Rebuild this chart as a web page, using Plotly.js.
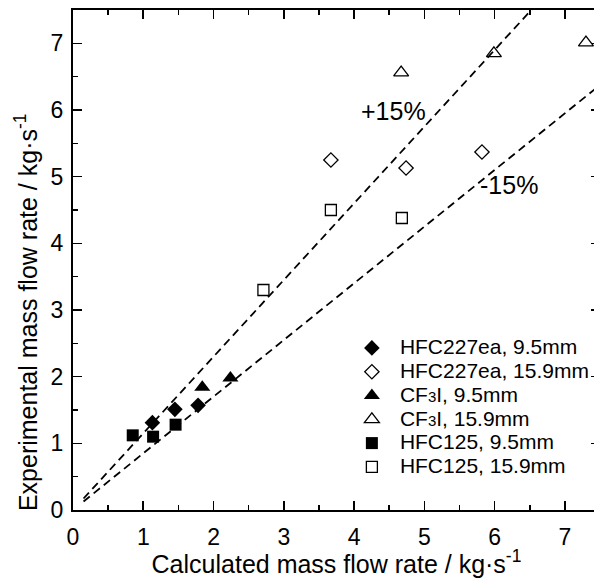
<!DOCTYPE html>
<html>
<head>
<meta charset="utf-8">
<script src="https://cdn.plot.ly/plotly-3.0.1.min.js"></script>
<style>
html, body { margin: 0; padding: 0; overflow: hidden; background: #fff; }
#chart { width: 610px; height: 578px; }
</style>
</head>
<body>
<div id="chart"></div>
<script>
// HFC227ea, 9.5mm
const hfc227_95_x = [1.13, 1.45, 1.78];
const hfc227_95_y = [1.31, 1.51, 1.57];
// HFC227ea, 15.9mm
const hfc227_159_x = [3.67, 4.74, 5.82];
const hfc227_159_y = [5.25, 5.13, 5.37];
// CF3I, 9.5mm
const cf3i_95_x = [1.84, 2.24];
const cf3i_95_y = [1.84, 1.98];
// CF3I, 15.9mm
const cf3i_159_x = [4.67, 5.99, 7.30];
const cf3i_159_y = [6.56, 6.85, 7.01];
// HFC125, 9.5mm
const hfc125_95_x = [0.85, 1.14, 1.46];
const hfc125_95_y = [1.12, 1.10, 1.28];
// HFC125, 15.9mm
const hfc125_159_x = [2.71, 3.67, 4.68];
const hfc125_159_y = [3.30, 4.50, 4.38];

// +/-15% reference lines
const refLineX = [0.15, 7.5];
const plusFactor = 1.15;
const minusFactor = 0.85;

// axis range and tick values (both axes)
const axisRange = [0, 7.5];
const majorTicks = [0, 1, 2, 3, 4, 5, 6, 7];

const xTitle = 'Calculated mass flow rate / kg·s<sup>-1</sup>';
const yTitle = 'Experimental mass flow rate / kg·s<sup>-1</sup>';

const FONT = 'Liberation Sans, Arial, sans-serif';

function big(s) { return '<span style="font-size:21px">' + s + '</span>'; }
function small(s) { return '<span style="font-size:15px">' + s + '</span>'; }

function pts(name, x, y, symbol, size, filled) {
  return {
    type: 'scatter', mode: 'markers', name: name, x: x, y: y,
    marker: {
      symbol: symbol, size: size, color: '#000',
      line: { color: '#000', width: filled ? 0 : 1.3 }
    }
  };
}

const traces = [
  { type: 'scatter', mode: 'lines', x: refLineX, y: refLineX.map(v => v * plusFactor),
    line: { color: '#000', width: 1.8, dash: '8px,5px' }, showlegend: false, hoverinfo: 'skip' },
  { type: 'scatter', mode: 'lines', x: refLineX, y: refLineX.map(v => v * minusFactor),
    line: { color: '#000', width: 1.8, dash: '8px,5px' }, showlegend: false, hoverinfo: 'skip' },
  pts(big('HFC227ea, 9.5mm'), hfc227_95_x, hfc227_95_y, 'diamond', 12, true),
  pts(big('HFC227ea, 15.9mm'), hfc227_159_x, hfc227_159_y, 'diamond-open', 11, false),
  pts(big('CF') + small('3') + big('I, 9.5mm'), cf3i_95_x, cf3i_95_y, 'triangle-up', 14, true),
  pts(big('CF') + small('3') + big('I, 15.9mm'), cf3i_159_x, cf3i_159_y, 'triangle-up-open', 13, false),
  pts(big('HFC125, 9.5mm'), hfc125_95_x, hfc125_95_y, 'square', 12, true),
  pts(big('HFC125, 15.9mm'), hfc125_159_x, hfc125_159_y, 'square-open', 11, false)
];

function makeAxis(standoff) {
  return {
    range: axisRange,
    showline: true, linecolor: '#000', linewidth: 2, mirror: 'ticks',
    ticks: 'inside', ticklen: 9, tickwidth: 1.6, tickcolor: '#000',
    showgrid: false, zeroline: false, tickmode: 'array', tickvals: majorTicks,
    ticktext: majorTicks.map(String),
    ticklabelstandoff: standoff,
    minor: { ticks: 'inside', ticklen: 5, tickwidth: 1.6, tickcolor: '#000',
      tickmode: 'linear', tick0: 0, dtick: 0.5, showgrid: false },
    tickfont: { family: FONT, size: 23, color: '#000' }
  };
}

const xaxis = makeAxis(5);
xaxis.title = { text: xTitle, font: { family: FONT, size: 25, color: '#000' }, standoff: 2 };
const yaxis = makeAxis(3);

const layout = {
  width: 610, height: 578,
  margin: { l: 73, r: 10, t: 10, b: 68 },
  paper_bgcolor: '#fff', plot_bgcolor: '#fff',
  showlegend: true,
  xaxis: xaxis,
  yaxis: yaxis,
  legend: {
    x: 0.514, y: 0.358, xanchor: 'left', yanchor: 'top',
    bgcolor: 'rgba(0,0,0,0)', borderwidth: 0,
    font: { family: FONT, size: 16, color: '#000' },
    itemwidth: 46
  },
  annotations: [
    { x: 4.56, y: 5.99, xref: 'x', yref: 'y', text: '+15%', showarrow: false,
      font: { family: FONT, size: 25, color: '#000' } },
    { x: 6.2, y: 4.87, xref: 'x', yref: 'y', text: '-15%', showarrow: false,
      font: { family: FONT, size: 25, color: '#000' } },
    { x: -0.089, y: 0.396, xref: 'paper', yref: 'paper', text: yTitle, textangle: -90,
      showarrow: false, xanchor: 'center', yanchor: 'middle',
      font: { family: FONT, size: 25, color: '#000' } }
  ]
};

Plotly.newPlot('chart', traces, layout, { staticPlot: true, displayModeBar: false });
</script>
</body>
</html>
